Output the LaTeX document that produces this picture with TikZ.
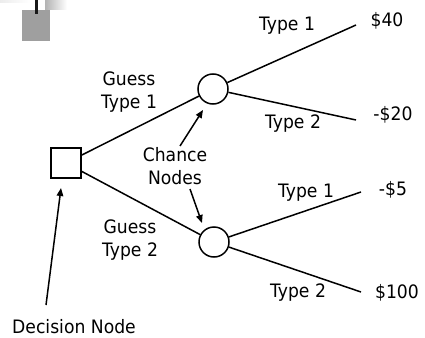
\documentclass[tikz,border=0pt]{standalone}
\usepackage{fontspec}
\setmainfont[FakeStretch=0.93]{DejaVu Sans}
\usetikzlibrary{arrows.meta}
\begin{document}
\begin{tikzpicture}[x=1pt,y=-1pt,
  every node/.style={font=\fontsize{18.5}{23}\selectfont, inner sep=0pt, align=center},
  branch/.style={line width=1.5pt},
  pointer/.style={line width=1.5pt, -{Triangle[length=8pt,width=6.5pt]}},
  decision/.style={draw, line width=1.5pt, minimum size=30pt, fill=white},
  chance/.style={draw, line width=1.5pt, circle, minimum size=30pt, fill=white}]
\useasboundingbox (0,0) rectangle (425,337);

% small grey marker in the corner
\shade[left color=gray!15, right color=white] (0,0) rectangle (30,3);
\shade[left color=gray!60, right color=white] (45,0) rectangle (67,10);
\fill[gray!75] (22,10) rectangle (50,41);
\fill[black!90] (35,0) rectangle (38,14);

% tree nodes
\node[decision] (dec) at (66,163) {};
\node[chance] (c1) at (213,89) {};
\node[chance] (c2) at (214,242) {};

% branch end points
\coordinate (e1) at (356,25);
\coordinate (e2) at (356,120);
\coordinate (e3) at (361,192);
\coordinate (e4) at (361,292);

\draw[branch] (dec) -- (c1);
\draw[branch] (dec) -- (c2);
\draw[branch] (c1) -- (e1);
\draw[branch] (c1) -- (e2);
\draw[branch] (c2) -- (e3);
\draw[branch] (c2) -- (e4);

% labels
\node (g1) at (129,92) {Guess\\Type 1};
\node (g2) at (130,240) {Guess\\Type 2};
\node (t11) at (287,26) {Type 1};
\node (t12) at (293,124) {Type 2};
\node (t21) at (306,193) {Type 1};
\node (t22) at (298,293) {Type 2};
\node (v1) at (387,21) {\$40};
\node (v2) at (393,115) {-\$20};
\node (v3) at (393,190) {-\$5};
\node (v4) at (397,293) {\$100};
\node (cn) at (175,166) {Chance\\Nodes};
\node (dn) at (74,327) {Decision Node};

% pointers
\coordinate (a1) at (180,146);
\coordinate (h1) at (203,110);
\coordinate (a2) at (190,189);
\coordinate (h2) at (202,223);
\coordinate (a3) at (46,305);
\coordinate (h3) at (61,188);
\draw[pointer] (a1) -- (h1);
\draw[pointer] (a2) -- (h2);
\draw[pointer] (a3) -- (h3);
\end{tikzpicture}
\end{document}
